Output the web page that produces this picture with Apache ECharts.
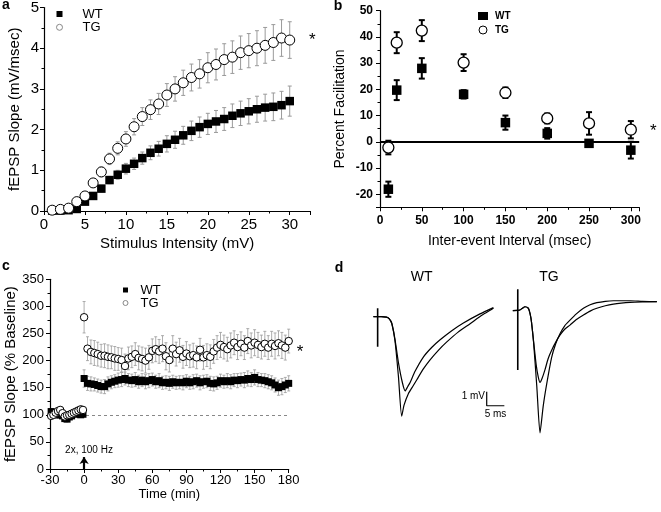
<!DOCTYPE html>
<html><head><meta charset="utf-8">
<script src="https://cdn.jsdelivr.net/npm/echarts@6/dist/echarts.min.js"></script>
<style>html,body{margin:0;padding:0;background:#fff}#c{width:661px;height:512px}</style>
</head><body><div id="c"></div>
<script>
// ---------- Panel a: input/output ----------
const aX = [1,2,3,4,5,6,7,8,9,10,11,12,13,14,15,16,17,18,19,20,21,22,23,24,25,26,27,28,29,30];
const aWT = [0.01,0.01,0.02,0.05,0.23,0.37,0.55,0.76,0.89,1.04,1.16,1.3,1.43,1.53,1.65,1.75,1.86,1.97,2.06,2.14,2.2,2.26,2.34,2.4,2.45,2.5,2.54,2.56,2.6,2.7];
const aWTerr = [0.02,0.02,0.03,0.04,0.06,0.07,0.08,0.09,0.11,0.13,0.14,0.15,0.17,0.18,0.2,0.21,0.22,0.24,0.25,0.26,0.27,0.28,0.29,0.3,0.31,0.32,0.33,0.34,0.34,0.37];
const aTG = [0.02,0.04,0.07,0.23,0.37,0.69,0.96,1.28,1.54,1.77,2.07,2.32,2.49,2.63,2.85,3.0,3.15,3.28,3.37,3.52,3.6,3.72,3.78,3.89,3.94,4.0,4.07,4.14,4.25,4.2];
const aTGerr = [0.02,0.03,0.04,0.06,0.08,0.1,0.12,0.14,0.16,0.18,0.2,0.22,0.24,0.26,0.28,0.3,0.31,0.33,0.35,0.37,0.38,0.39,0.4,0.41,0.42,0.43,0.44,0.44,0.45,0.45];

// ---------- Panel b: paired-pulse facilitation ----------
const bX = [10,20,50,100,150,200,250,300];
const bWT = [-18.1,19.7,28,18.1,7.3,3.2,-0.6,-3.2];
const bWTerr = [2.9,3.8,3.9,1.6,2.7,2,1,3.2];
const bTG = [-2.2,37.8,42.4,30.2,18.7,8.9,7,4.6];
const bTGerr = [2.6,4,4,3.2,2,1.9,4.3,3.3];

// ---------- Panel c: LTP time course ----------
const cBaseT = [-29,-27,-25,-23,-21,-19,-17,-15,-13,-11,-9,-7,-5,-3,-1];
const cWTbase = [106,103,100,100,100,98,93,92,96,98,102,103,101,100,101];
const cWTbaseErr = [5,5,5,5,5,5,5,5,5,5,5,5,5,5,5];
const cTGbase = [98,100,104,107,109,103,97,99,100,102,104,106,108,110,109];
const cTGbaseErr = [6,6,6,6,6,6,6,6,6,6,6,6,6,6,6];
const cPostT = [0,3,6,9,12,15,18,21,24,27,30,33,36,39,42,45,48,51,54,57,60,63,66,69,72,75,78,81,84,87,90,93,96,99,102,105,108,111,114,117,120,123,126,129,132,135,138,141,144,147,150,153,156,159,162,165,168,171,174,177,180];
const cWTpost = [167,158,157,156,154,152,152,157,160,162,
                 164,165,167,164,163,165,161,164,161,163,
                 165,161,163,159,160,158,161,159,160,159,
                 162,159,161,163,159,161,162,158,157,159,
                 163,161,163,161,164,163,165,164,167,165,
                 169,165,164,163,161,159,155,150,152,155,
                 158];
const cWTpostErr = [16,13,13,12,12,12,13,13,12,12,
                    13,13,12,12,12,13,12,12,13,13,
                    12,12,13,12,12,13,12,12,12,13,
                    12,12,13,12,13,12,12,13,13,12,
                    12,12,13,13,12,13,12,14,14,13,
                    14,13,12,13,13,13,13,14,15,14,
                    14];
const cTGpost = [280,222,216,214,212,209,209,207,206,204,
                 203,201,190,204,207,212,205,203,200,206,
                 218,221,217,222,208,201,222,212,219,207,
                 213,208,210,206,220,206,210,207,217,224,
                 229,225,221,228,233,225,231,224,236,228,
                 233,229,225,231,224,231,227,232,228,224,
                 236];
const cTGpostErr = [29,22,22,23,22,21,22,22,21,22,
                    21,22,22,21,20,21,22,22,23,22,
                    22,23,22,24,25,22,24,22,22,21,
                    22,21,22,21,21,22,21,22,22,22,
                    23,22,22,23,22,23,22,22,23,23,
                    24,23,22,23,22,23,24,23,24,23,
                    22];

// ---------- Panel d: sample traces (time ms, mV) ----------
const dWTlarge = [[3.8,0],[6,0],[7.5,-0.03],[8.3,-0.15],[9.0,-0.5],[9.9,-1.7],[10.9,-4.3],[11.8,-7.1],[12.5,-6.3],[13.7,-5.5],[14.9,-5.0],[16.1,-4.5],[17.9,-3.75],[19.8,-3.1],[22.2,-2.4],[24.6,-1.8],[27.8,-1.1],[31.2,-0.5],[34.5,0.1],[37.8,0.6]];
const dWTsmall = [[3.8,0],[6,0],[7.5,-0.03],[8.3,-0.15],[9.0,-0.45],[9.9,-1.6],[10.9,-3.3],[12.0,-4.7],[12.8,-5.3],[13.5,-5.0],[14.2,-4.7],[15.6,-3.9],[17.9,-2.9],[20.3,-2.2],[22.7,-1.65],[26.0,-1.0],[29.3,-0.45],[34.0,0.2],[37.8,0.65]];
const dWTartifact = [[5.0,0.6],[5.0,-2.14]];
const dTGlarge = [[43.3,0.43],[44.6,0.45],[45.3,0.48],[46.0,0.6],[46.75,0.71],[47.7,0.6],[48.2,0.2],[48.6,-0.4],[49.2,-1.9],[50.1,-5.0],[51.0,-8.3],[51.9,-6.4],[52.9,-4.8],[54.3,-2.9],[55.5,-1.9],[56.7,-1.2],[58.0,-0.65],[59.5,-0.25],[61.3,0.2],[63.3,0.6],[65.2,0.85],[67.1,1.0],[69.5,1.1],[71.8,1.14],[76.5,1.14],[80,1.1],[84.1,1.07]];
const dTGsmall = [[43.3,0.43],[44.6,0.45],[45.3,0.48],[46.0,0.6],[46.75,0.71],[47.7,0.6],[48.2,0.2],[48.6,-0.4],[49.2,-1.8],[49.9,-3.4],[50.5,-4.3],[51.0,-4.7],[51.6,-4.4],[52.4,-3.8],[53.3,-3.0],[54.3,-2.4],[55.5,-1.8],[56.7,-1.3],[58.0,-0.9],[59.5,-0.6],[61.3,-0.2],[63.3,0.12],[65.2,0.4],[67.1,0.6],[69.5,0.78],[71.8,0.9],[74,0.97],[76.5,1.02],[80,1.05],[84.1,1.07]];
const dTGartifact = [[44.7,1.96],[44.7,-3.81]];
const dScaleBar = [[35.9,-5.36],[35.9,-6.36],[40.9,-6.36]];

const F = '"Liberation Sans", Arial, Helvetica, sans-serif';

function pts(xs, ys){ return xs.map((x,i)=>[x, ys[i]]); }
function errData(xs, ys, es){ return xs.map((x,i)=>[x, ys[i]-es[i], ys[i]+es[i]]); }
function errSeries(idx, data, color, lw, cap, z){
  return {type:'custom', xAxisIndex:idx, yAxisIndex:idx, z:z, silent:true, data:data, encode:{x:0, y:[1,2]},
    renderItem:function(params, api){
      const x = api.value(0);
      const p1 = api.coord([x, api.value(2)]);
      const p2 = api.coord([x, api.value(1)]);
      const st = {stroke:color, lineWidth:lw, fill:null};
      return {type:'group', children:[
        {type:'line', shape:{x1:p1[0],y1:p1[1],x2:p2[0],y2:p2[1]}, style:st},
        {type:'line', shape:{x1:p1[0]-cap,y1:p1[1],x2:p1[0]+cap,y2:p1[1]}, style:st},
        {type:'line', shape:{x1:p2[0]-cap,y1:p2[1],x2:p2[0]+cap,y2:p2[1]}, style:st}
      ]};
    }};
}
function axis(o, labelStyle, nameStyle){
  return Object.assign({
    type:'value', splitLine:{show:false},
    axisLine:{show:true, onZero:false, lineStyle:{color:'#000', width:1.2}},
    axisTick:{show:true, inside:false, length:4, lineStyle:{color:'#000', width:1}},
    minorTick:{show:true, splitNumber:2, length:2.5, lineStyle:{color:'#000', width:1}},
    minorSplitLine:{show:false},
    axisLabel:Object.assign({color:'#000', fontFamily:F}, labelStyle),
    nameLocation:'middle',
    nameTextStyle:Object.assign({color:'#000', fontFamily:F}, nameStyle)
  }, o);
}
function txt(x, y, text, font, align){
  return {type:'text', x:x, y:y, silent:true, style:{text:text, font:font, fill:'#000',
    align:align||'center', verticalAlign:'middle', textAlign:align||'center', textVerticalAlign:'middle'}};
}
const traceLine = {color:'#000', width:1.2};

const option = {
  animation:false,
  backgroundColor:'#fff',
  grid:[
    {left:44, top:6, width:266.2, height:205},
    {left:380, top:10.7, width:259.2, height:196.6},
    {left:50, top:279.3, width:238.7, height:189.7},
    {left:360, top:288.7, width:300, height:168}
  ],
  xAxis:[
    axis({gridIndex:0, min:0, max:32.5, interval:5, name:'Stimulus Intensity (mV)', nameGap:25},
      {fontSize:15, margin:6, showMaxLabel:false}, {fontSize:15}),
    axis({gridIndex:1, min:0, max:310, interval:50, name:'Inter-event Interval (msec)', nameGap:27},
      {fontSize:12, fontWeight:'bold', margin:7, showMaxLabel:false}, {fontSize:14}),
    axis({gridIndex:2, min:-30, max:180, interval:30, name:'Time (min)', nameGap:19},
      {fontSize:13, margin:5}, {fontSize:13}),
    {gridIndex:3, type:'value', min:0, max:85, show:false}
  ],
  yAxis:[
    axis({gridIndex:0, min:0, max:5, interval:1, name:'fEPSP Slope (mV/msec)', nameGap:22},
      {fontSize:15, margin:5}, {fontSize:15}),
    axis({gridIndex:1, min:-25, max:50, splitNumber:7, name:'Percent Facilitation', nameGap:33},
      {fontSize:12, fontWeight:'bold', margin:7, showMinLabel:false}, {fontSize:14}),
    axis({gridIndex:2, min:0, max:350, interval:50, name:'fEPSP Slope (% Baseline)', nameGap:30},
      {fontSize:13, margin:6}, {fontSize:15}),
    {gridIndex:3, type:'value', min:-10, max:2, show:false}
  ],
  legend:[
    {left:56, top:7.5, orient:'vertical', padding:0, itemGap:0.3, itemWidth:6, itemHeight:6, selectedMode:false,
     textStyle:{fontFamily:F, fontSize:13, color:'#000', padding:[0,0,0,15]},
     data:[{name:'WT', icon:'rect', itemStyle:{color:'#000', borderWidth:0, opacity:1}},
           {name:'TG', icon:'circle', itemStyle:{color:'#fff', borderColor:'#888', borderWidth:1, opacity:1}}]},
    {left:478, top:11, orient:'vertical', padding:0, itemGap:4, itemWidth:10, itemHeight:8, selectedMode:false,
     textStyle:{fontFamily:F, fontSize:10, fontWeight:'bold', color:'#000', padding:[0,0,0,2]},
     data:[{name:'WT', icon:'rect', itemStyle:{color:'#000', borderWidth:0, opacity:1}},
           {name:'TG', icon:'circle', itemStyle:{color:'#fff', borderColor:'#000', borderWidth:1, opacity:1}}]},
    {left:122.5, top:283.5, orient:'vertical', padding:0, itemGap:0, itemWidth:5, itemHeight:5, selectedMode:false,
     textStyle:{fontFamily:F, fontSize:13, color:'#000', padding:[0,0,0,7.5]},
     data:[{name:'WT', icon:'rect', itemStyle:{color:'#000', borderWidth:0, opacity:1}},
           {name:'TG', icon:'circle', itemStyle:{color:'#fff', borderColor:'#888', borderWidth:1, opacity:1}}]}
  ],
  graphic:{elements:[
    txt(6, 5.4, 'a', 'bold 14px ' + F),
    txt(338, 6.2, 'b', 'bold 14px ' + F),
    txt(6, 266, 'c', 'bold 14px ' + F),
    txt(339, 268.3, 'd', 'bold 14px ' + F),
    txt(312.3, 40, '*', '17px ' + F),
    txt(653.3, 131.7, '*', '17px ' + F),
    txt(300, 352.3, '*', '17px ' + F),
    txt(89, 450, '2x, 100 Hz', '10px ' + F),
    txt(421.7, 276.7, 'WT', '14px ' + F),
    txt(549, 276.7, 'TG', '14px ' + F),
    txt(485, 395.8, '1 mV', '10px ' + F, 'right'),
    txt(495.5, 414, '5 ms', '10px ' + F)
  ]},
  series:[
    // panel a
    errSeries(0, errData(aX, aWT, aWTerr), '#9a9a9a', 1, 2, 1),
    errSeries(0, errData(aX, aTG, aTGerr), '#9a9a9a', 1, 2, 1),
    {type:'scatter', name:'WT', xAxisIndex:0, yAxisIndex:0, symbol:'rect', symbolSize:8.5, z:3,
     itemStyle:{color:'#000', opacity:1}, data:pts(aX, aWT)},
    {type:'scatter', name:'TG', xAxisIndex:0, yAxisIndex:0, symbol:'circle', symbolSize:10, z:4,
     itemStyle:{color:'#fff', borderColor:'#000', borderWidth:1, opacity:1}, data:pts(aX, aTG)},
    // panel b
    errSeries(1, errData(bX, bWT, bWTerr), '#000', 2, 3, 1),
    errSeries(1, errData(bX, bTG, bTGerr), '#000', 2, 3, 1),
    {type:'scatter', name:'WT', xAxisIndex:1, yAxisIndex:1, symbol:'rect', symbolSize:9.5, z:3,
     itemStyle:{color:'#000', opacity:1}, data:pts(bX, bWT),
     markLine:{silent:true, symbol:['none','none'], label:{show:false}, z:2,
       lineStyle:{color:'#000', width:2, type:'solid', opacity:1}, data:[{yAxis:0}]}},
    {type:'scatter', name:'TG', xAxisIndex:1, yAxisIndex:1, symbol:'circle', symbolSize:11, z:4,
     itemStyle:{color:'#fff', borderColor:'#000', borderWidth:1.3, opacity:1}, data:pts(bX, bTG)},
    // panel c
    errSeries(2, errData(cBaseT, cTGbase, cTGbaseErr), '#999', 0.8, 1.5, 1),
    errSeries(2, errData(cBaseT, cWTbase, cWTbaseErr), '#999', 0.8, 1.5, 1),
    errSeries(2, errData(cPostT, cTGpost, cTGpostErr), '#999', 0.8, 1.5, 1),
    errSeries(2, errData(cPostT, cWTpost, cWTpostErr), '#999', 0.8, 1.5, 1),
    {type:'scatter', name:'WT', xAxisIndex:2, yAxisIndex:2, symbol:'rect', symbolSize:7, z:3,
     itemStyle:{color:'#000', opacity:1}, data:pts(cBaseT, cWTbase).concat(pts(cPostT, cWTpost)),
     markLine:{silent:true, symbol:['none','none'], label:{show:false}, z:1,
       lineStyle:{color:'#888', width:1, type:[3,3], opacity:1}, data:[{yAxis:100}]}},
    {type:'scatter', name:'TG', xAxisIndex:2, yAxisIndex:2, symbol:'circle', symbolSize:7.5, z:4,
     itemStyle:{color:'#fff', borderColor:'#000', borderWidth:1, opacity:1}, data:pts(cBaseT, cTGbase).concat(pts(cPostT, cTGpost)),
     markLine:{silent:true, symbol:['none','arrow'], symbolSize:[7,7], label:{show:false}, z:5,
       lineStyle:{color:'#000', width:2.2, type:'solid', opacity:1},
       data:[[{coord:[0,0]},{coord:[0,22]}]]}},
    // panel d
    {type:'line', xAxisIndex:3, yAxisIndex:3, data:dWTlarge, showSymbol:false, symbol:'none', smooth:0.2, lineStyle:traceLine, silent:true},
    {type:'line', xAxisIndex:3, yAxisIndex:3, data:dWTsmall, showSymbol:false, symbol:'none', smooth:0.2, lineStyle:traceLine, silent:true},
    {type:'line', xAxisIndex:3, yAxisIndex:3, data:dWTartifact, showSymbol:false, symbol:'none', lineStyle:{color:'#000', width:1.6}, silent:true},
    {type:'line', xAxisIndex:3, yAxisIndex:3, data:dTGlarge, showSymbol:false, symbol:'none', smooth:0.2, lineStyle:traceLine, silent:true},
    {type:'line', xAxisIndex:3, yAxisIndex:3, data:dTGsmall, showSymbol:false, symbol:'none', smooth:0.2, lineStyle:traceLine, silent:true},
    {type:'line', xAxisIndex:3, yAxisIndex:3, data:dTGartifact, showSymbol:false, symbol:'none', lineStyle:{color:'#000', width:1.6}, silent:true},
    {type:'line', xAxisIndex:3, yAxisIndex:3, data:dScaleBar, showSymbol:false, symbol:'none', lineStyle:{color:'#000', width:1.2}, silent:true}
  ]
};
const chart = echarts.init(document.getElementById('c'), null, {renderer:'canvas'});
chart.setOption(option);
</script></body></html>
